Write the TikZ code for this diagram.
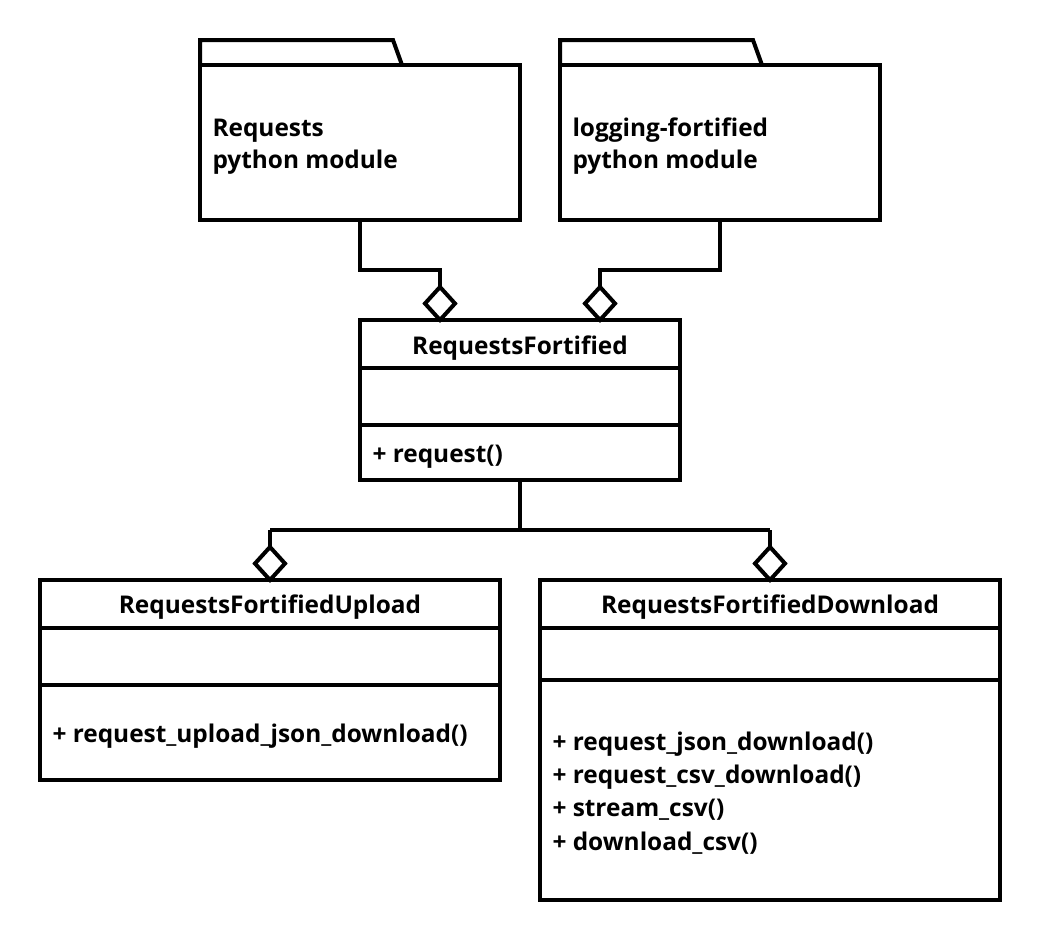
\documentclass[tikz,border=0pt]{standalone}
\usepackage{fontspec}
\setmainfont{Open Sans}
\usetikzlibrary{calc}
\begin{document}
\begin{tikzpicture}[x=1pt,y=-1pt,line width=4pt,
  box/.style={draw=black,rectangle,inner sep=0pt,outer sep=0pt,anchor=north west,line width=4pt},
  lbl/.style={font=\fontsize{24.4}{33}\selectfont\bfseries,inner sep=0pt},
  diam/.style={draw=black,fill=white,line width=4pt}]
\useasboundingbox[fill=white] (0,0) rectangle (1040,940);
% packages
\node[box,minimum width=320pt,minimum height=155pt] (pk1) at (200,65) {};
\draw ($(pk1.north west)$) -- ++(0,-25) -- ++(193,0) -- ++(9,25);
\node[lbl,anchor=base west] (pk1a) at (210.5,136) {Requests};
\node[lbl,anchor=base west] (pk1b) at (210.5,168) {python module};
\node[box,minimum width=320pt,minimum height=155pt] (pk2) at (560,65) {};
\draw ($(pk2.north west)$) -- ++(0,-25) -- ++(193,0) -- ++(9,25);
\node[lbl,anchor=base west] (pk2a) at (570.5,136) {logging-fortified};
\node[lbl,anchor=base west] (pk2b) at (570.5,168) {python module};
% RequestsFortified
\node[box,minimum width=320pt,minimum height=160pt] (rf) at (360,320) {};
\draw ($(rf.north west)+(0,48)$) -- ($(rf.north east)+(0,48)$);
\draw ($(rf.north west)+(0,105)$) -- ($(rf.north east)+(0,105)$);
\node[lbl,anchor=base] (rft) at ($(rf.north)+(0,34)$) {RequestsFortified};
\node[lbl,anchor=base west] (rfm) at (370.5,462) {+ request()};
% Upload
\node[box,minimum width=460pt,minimum height=200pt] (up) at (40,580) {};
\draw ($(up.north west)+(0,48)$) -- ($(up.north east)+(0,48)$);
\draw ($(up.north west)+(0,105)$) -- ($(up.north east)+(0,105)$);
\node[lbl,anchor=base] (upt) at ($(up.north)+(0,33)$) {RequestsFortifiedUpload};
\node[lbl,anchor=base west] (upm) at (50.5,742) {+ request\_upload\_json\_download()};
% Download
\node[box,minimum width=460pt,minimum height=320pt] (dn) at (540,580) {};
\draw ($(dn.north west)+(0,48)$) -- ($(dn.north east)+(0,48)$);
\draw ($(dn.north west)+(0,100)$) -- ($(dn.north east)+(0,100)$);
\node[lbl,anchor=base] (dnt) at ($(dn.north)+(0,33)$) {RequestsFortifiedDownload};
\node[lbl,anchor=base west] (dn1) at (550.5,750) {+ request\_json\_download()};
\node[lbl,anchor=base west] (dn2) at (550.5,783) {+ request\_csv\_download()};
\node[lbl,anchor=base west] (dn3) at (550.5,816.5) {+ stream\_csv()};
\node[lbl,anchor=base west] (dn4) at (550.5,850) {+ download\_csv()};
% aggregation points
\coordinate (a1) at ($(rf.north west)+(80,0)$);
\coordinate (a2) at ($(rf.north west)+(240,0)$);
\coordinate (a3) at (up.north);
\coordinate (a4) at (dn.north);
% connectors
\draw (pk1.south) |- ($(a1)+(0,-50)$) -- ($(a1)+(0,-33)$);
\draw (pk2.south) |- ($(a2)+(0,-50)$) -- ($(a2)+(0,-33)$);
\draw (rf.south) -- ++(0,50) coordinate (j);
\draw ($(a3)+(0,-50)$) -- ($(a4)+(0,-50)$);
\draw ($(a3)+(0,-50)$) -- ($(a3)+(0,-33)$);
\draw ($(a4)+(0,-50)$) -- ($(a4)+(0,-33)$);
\foreach \p in {a1,a2,a3,a4}{
  \draw[diam] (\p) -- ++(15,-16.5) -- ++(-15,-16.5) -- ++(-15,16.5) -- cycle;
}
\end{tikzpicture}
\end{document}
